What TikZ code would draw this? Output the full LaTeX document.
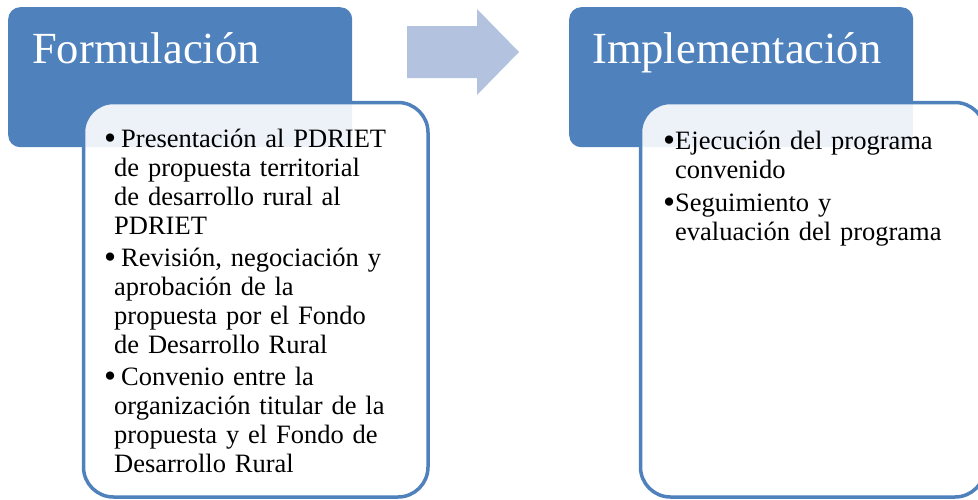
\documentclass[tikz,border=0pt]{standalone}
\usepackage{fontspec}
\setmainfont{Liberation Serif}
\definecolor{azul}{HTML}{4F81BD}
\definecolor{azulclaro}{HTML}{B3C3DF}
\tikzset{
  cabecera/.style={fill=azul, rounded corners=12pt, inner sep=0pt,
    minimum width=344pt, minimum height=140pt, anchor=north west},
  caja/.style={draw=azul, line width=3.5pt, fill=white, fill opacity=0.9,
    text opacity=1, rounded corners=30pt, inner sep=0pt,
    minimum width=344.5pt, minimum height=394.5pt, anchor=north west},
  titulo/.style={text=white, font=\fontsize{44.5}{50}\selectfont,
    anchor=base west, inner sep=0pt},
  cuerpo/.style={font=\fontsize{26.5}{29}\selectfont, anchor=base west,
    inner sep=0pt, align=left, text width=330pt},
}
\newcommand{\punto}{\raisebox{-2.8pt}{\scalebox{1.3}{\textbullet}}}
\newcommand{\vin}{\makebox[17pt][l]{\punto}}
\newcommand{\sig}{\hspace*{10pt}}
\newcommand{\vinb}{\makebox[12pt][l]{\punto}}
\newcommand{\sigb}{\hspace*{12pt}}

\begin{document}
\begin{tikzpicture}[x=1pt,y=-1pt]
    \useasboundingbox (0,0) rectangle (978,499);
    \clip (0,0) rectangle (978,499);
    \fill[white] (0,0) rectangle (978,499);
    % fase 1
    \node[cabecera] (formcab) at (8,7) {};
    \node[caja] (formcaja) at (81.75,100.75) {};
    \node[titulo] (formtit) at (32,63) {Formulación};
    \node[cuerpo] (formtxt) at (104,147) {%
        \vin Presentación al PDRIET\\
        \sig de propuesta territorial\\
        \sig de desarrollo rural al\\
        \sig PDRIET\\[3pt]
        \vin Revisión, negociación y\\
        \sig aprobación de la\\
        \sig propuesta por el Fondo\\
        \sig de Desarrollo Rural\\[3pt]
        \vin Convenio entre la\\
        \sig organización titular de la\\
        \sig propuesta y el Fondo de\\
        \sig Desarrollo Rural};
    % flecha
    \fill[azulclaro] (407,26) -- (477,26) -- (477,9) -- (519,52)
        -- (477,95) -- (477,78) -- (407,78) -- cycle;
    % fase 2
    \node[cabecera] (implcab) at (569,7) {};
    \node[caja] (implcaja) at (638.75,100.75) {};
    \node[titulo] (impltit) at (592,63) {Implementación};
    \node[cuerpo] (impltxt) at (663,149) {%
        \vinb Ejecución del programa\\
        \sigb convenido\\[4pt]
        \vinb Seguimiento y\\
        \sigb evaluación del programa};
\end{tikzpicture}
\end{document}
